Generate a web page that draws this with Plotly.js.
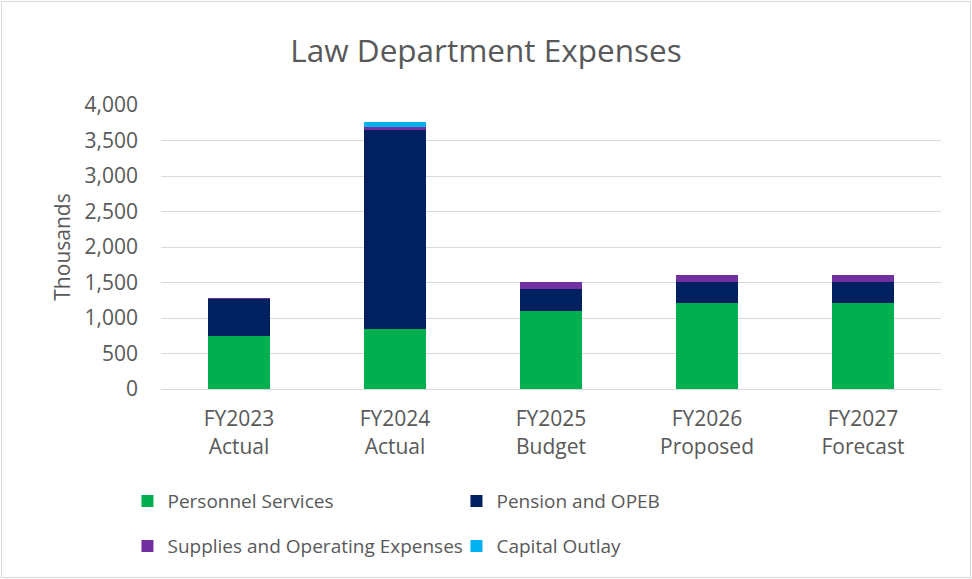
<!DOCTYPE html>
<html>
<head>
<meta charset="utf-8">
<script src="https://cdn.plot.ly/plotly-3.0.1.min.js"></script>
<style>
  html, body { margin: 0; padding: 0; background: #fff; }
  #chart { width: 968px; height: 575px; border: 1px solid #d9d9d9; margin: 1px 0 0 1px; }
</style>
</head>
<body>
<div id="chart"></div>
<script>
const categories = ["FY2023<br>Actual", "FY2024<br>Actual", "FY2025<br>Budget", "FY2026<br>Proposed", "FY2027<br>Forecast"];
const personnelServices = [745, 845, 1100, 1205, 1205];
const pensionOPEB = [520, 2800, 310, 305, 305];
const suppliesOperating = [20, 45, 95, 90, 90];
const capitalOutlay = [0, 65, 4, 4, 4];
const yTickVals = [0, 500, 1000, 1500, 2000, 2500, 3000, 3500, 4000];

const font = "'Open Sans', sans-serif";
const mk = (name, y, color, legend) => ({
  type: "bar", name: name, x: categories, y: y, legend: legend,
  marker: { color: color }, hoverinfo: "y+name"
});

const data = [
  mk("Personnel Services", personnelServices, "#00b050", "legend"),
  mk("Pension and OPEB", pensionOPEB, "#002060", "legend"),
  mk("Supplies and Operating Expenses", suppliesOperating, "#7030a0", "legend2"),
  mk("Capital Outlay", capitalOutlay, "#00b0f0", "legend2")
];

const legendBase = {
  orientation: "h", x: -0.043, xanchor: "left", yanchor: "middle",
  entrywidth: 284, entrywidthmode: "pixels", traceorder: "normal",
  font: { size: 19, color: "#595959" }, itemwidth: 30, bgcolor: "rgba(0,0,0,0)"
};

const layout = {
  width: 968, height: 575,
  barmode: "stack",
  bargap: 0.6,
  paper_bgcolor: "#fff", plot_bgcolor: "#fff",
  font: { family: font, color: "#595959", size: 21 },
  title: { text: "Law Department Expenses", font: { family: font, size: 31.5, color: "#595959" }, x: 0.5, xanchor: "center", y: 0.915, yanchor: "middle" },
  margin: { l: 159, r: 29, t: 103, b: 185, pad: 0 },
  xaxis: {
    showgrid: false, showline: true, linecolor: "#d9d9d9", linewidth: 1,
    ticks: "", ticklabelstandoff: 11, tickfont: { size: 21, color: "#595959" }
  },
  yaxis: {
    range: [0, 4000], tickvals: yTickVals, tickformat: ",", showgrid: true, gridcolor: "#d9d9d9",
    zeroline: false, showline: false, ticks: "", ticklabelstandoff: 22,
    tickfont: { size: 21, color: "#595959" },
    title: { text: "Thousands", font: { size: 21, color: "#595959" }, standoff: 8 }
  },
  legend: Object.assign({}, legendBase, { y: -0.395 }),
  legend2: Object.assign({}, legendBase, { y: -0.553 }),
  showlegend: true
};

Plotly.newPlot("chart", data, layout, { displayModeBar: false, staticPlot: true });
</script>
</body>
</html>
